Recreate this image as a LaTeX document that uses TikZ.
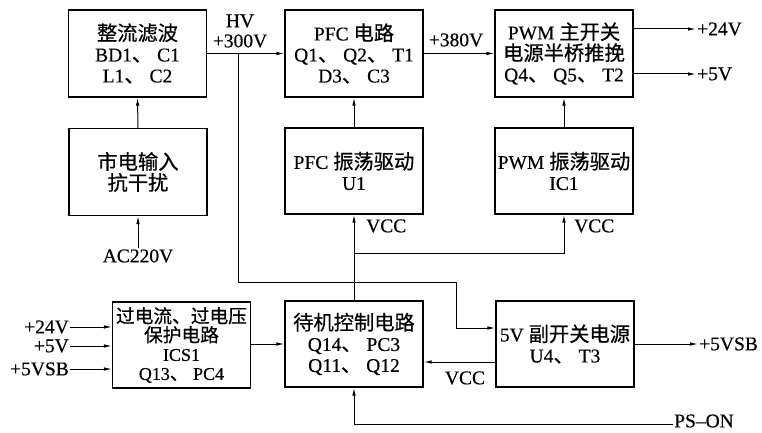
\documentclass[tikz,border=0pt]{standalone}
\usepackage{fontspec}
\setmainfont{Liberation Serif}[FakeBold=0.4]
\newfontfamily\cjk{Noto Sans CJK SC}[Scale=1.04,FakeBold=0.6]
\usetikzlibrary{arrows.meta}
\begin{document}
\begin{tikzpicture}[x=1pt,y=-1pt,
 box/.style={draw,line width=1.1pt,minimum width=138pt,minimum height=87pt,inner sep=0pt,align=center,font=\fontsize{19.5}{21}\selectfont},
 lbl/.style={inner sep=1pt,font=\fontsize{19.5}{21}\selectfont},
 conn/.style={line width=1pt},
 arr/.style={conn,-{Latex[length=8pt,width=3.5pt]}}]
\useasboundingbox (0,0) rectangle (762,433);

\node[box] (zl) at (137.5,53.5) {{\cjk 整流滤波}\\BD1{\cjk 、} C1\\L1{\cjk 、} C2};
\node[box] (sd) at (138,172) {{\cjk 市电输入}\\{\cjk 抗干扰}};
\node[box] (pfc) at (354,53.5) {PFC {\cjk 电路}\\Q1{\cjk 、} Q2{\cjk 、} T1\\D3{\cjk 、} C3};
\node[box] (pwm) at (564,53.5) {PWM {\cjk 主开关}\\{\cjk 电源半桥推挽}\\Q4{\cjk 、} Q5{\cjk 、} T2};
\node[box,minimum height=86pt] (pfcd) at (354,171) {PFC {\cjk 振荡驱动}\\U1};
\node[box,minimum height=86pt] (pwmd) at (564,171) {PWM {\cjk 振荡驱动}\\IC1};
\node[box,minimum height=86pt,font=\fontsize{18}{19}\selectfont] (prot) at (181.5,345) {{\cjk 过电流、过电压}\\{\cjk 保护电路}\\ICS1\\Q13{\cjk 、} PC4};
\node[box,minimum height=86pt] (stb) at (354,344) {{\cjk 待机控制电路}\\Q14{\cjk 、} PC3\\Q11{\cjk 、} Q12};
\node[box,minimum height=86pt] (sub) at (565,344) {5V {\cjk 副开关电源}\\U4{\cjk 、} T3};

\node[lbl] (hv) at (240,21) {HV};
\node[lbl] (v300) at (240,41) {+300V};
\node[lbl] (v380) at (456,40) {+380V};
\node[lbl,anchor=west] (o24) at (696,29) {+24V};
\node[lbl,anchor=west] (o5) at (696,74) {+5V};
\node[lbl,anchor=west] (o5sb) at (698,344) {+5VSB};
\node[lbl,anchor=west] (pson) at (673,421) {PS--ON};
\node[lbl] (ac) at (138,256) {AC220V};
\node[lbl,anchor=east] (i24) at (70,327) {+24V};
\node[lbl,anchor=east] (i5) at (70,346) {+5V};
\node[lbl,anchor=east] (i5sb) at (70,369) {+5VSB};
\node[lbl,anchor=west] (vcc1) at (365,226) {VCC};
\node[lbl,anchor=west] (vcc2) at (573,226) {VCC};
\node[lbl] (vcc3) at (465,378) {VCC};

\coordinate (hvj) at (238,53.5);
\coordinate (h2) at (456,282);
\coordinate (h3) at (456,328);
\coordinate (vj) at (354,253);
\coordinate (psl) at (673,424);

\draw[arr] (sd.north) -- (zl.south);
\draw[arr] (ac.north) -- (sd.south);
\draw[arr] (zl.east) -- (pfc.west);
\draw[arr] (pfc.east) -- (pwm.west);
\draw[arr] (pwm.east |- o24) -- (o24.west);
\draw[arr] (pwm.east |- o5) -- (o5.west);
\draw[arr] (pfcd.north) -- (pfc.south);
\draw[arr] (pwmd.north) -- (pwm.south);
\draw[arr] (stb.north) -- (pfcd.south);
\draw[arr] (vj) -| (pwmd.south);
\draw[arr] (hvj) |- (h2) -- (h3) -- (h3 -| sub.west);
\draw[arr] (sub.west |- 0,362) -- (stb.east |- 0,362);
\draw[arr] (sub.east |- o5sb) -- (o5sb.west);
\draw[arr] (psl) -| (stb.south);
\draw[arr] (i24.east) -- (i24 -| prot.west);
\draw[arr] (i5.east) -- (i5 -| prot.west);
\draw[arr] (i5sb.east) -- (i5sb -| prot.west);
\draw[arr] (prot.east |- 0,344) -- (stb.west |- 0,344);
\end{tikzpicture}
\end{document}
